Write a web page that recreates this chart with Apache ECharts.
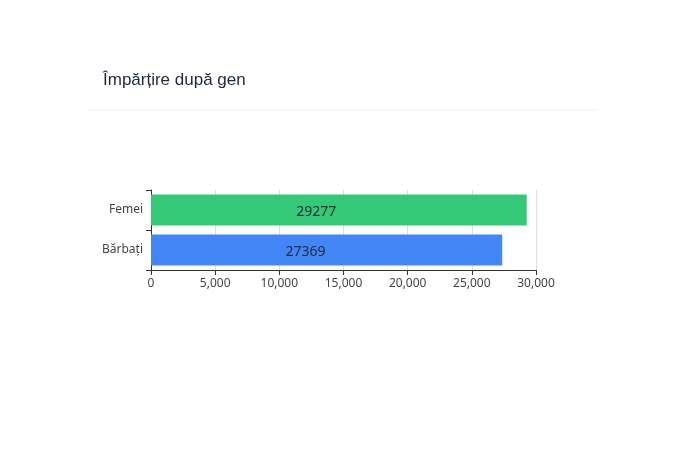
<!DOCTYPE html>
<html>
<head>
<meta charset="utf-8">
<script src="https://cdn.jsdelivr.net/npm/echarts@6/dist/echarts.min.js"></script>
<style>
html,body{margin:0;padding:0;background:#ffffff;}
#chart{width:691px;height:453px;}
</style>
</head>
<body>
<div id="chart"></div>
<script>
var titleText = 'Împărțire după gen';
var categories = ['Bărbați', 'Femei'];
var values = [27369, 29277];
var barColors = ['#4287f5', '#34c977'];
var xTicks = [0, 5000, 10000, 15000, 20000, 25000, 30000];

var chart = echarts.init(document.getElementById('chart'));
chart.setOption({
  backgroundColor: '#ffffff',
  animation: false,
  title: {
    text: titleText,
    left: 98,
    top: 67,
    textStyle: { fontFamily: 'Liberation Sans, Arial, sans-serif', fontSize: 17, fontWeight: 'normal', color: '#1f2937' }
  },
  graphic: [{
    type: 'line',
    shape: { x1: 88, y1: 110, x2: 597, y2: 110 },
    style: { stroke: '#eeeeee', lineWidth: 1 }
  }],
  grid: { left: 151, right: 155, top: 190, height: 80, containLabel: false },
  xAxis: {
    type: 'value',
    min: xTicks[0],
    max: xTicks[xTicks.length - 1],
    interval: xTicks[1] - xTicks[0],
    axisLine: { show: true, lineStyle: { color: '#333333' } },
    axisTick: { show: true, lineStyle: { color: '#333333' } },
    axisLabel: { color: '#444444', fontSize: 12, fontFamily: 'Noto Sans, sans-serif', margin: 8,
      formatter: function (v) { return v.toLocaleString('en-US'); } },
    splitLine: { show: true, lineStyle: { color: '#dddddd' } }
  },
  yAxis: {
    type: 'category',
    data: categories,
    axisLine: { show: true, lineStyle: { color: '#333333' } },
    axisTick: { show: true, lineStyle: { color: '#333333' } },
    axisLabel: { color: '#444444', fontSize: 12, fontFamily: 'Noto Sans, sans-serif', margin: 8 }
  },
  series: [{
    type: 'bar',
    data: values.map(function (v, i) { return { value: v, itemStyle: { color: barColors[i] } }; }),
    barCategoryGap: '22%',
    label: {
      show: true,
      position: ['44%', '50%'],
      offset: [0, 2],
      align: 'center',
      verticalAlign: 'middle',
      color: '#1a2b3c',
      fontSize: 14,
      fontFamily: 'Noto Sans, sans-serif'
    }
  }]
});
</script>
</body>
</html>
